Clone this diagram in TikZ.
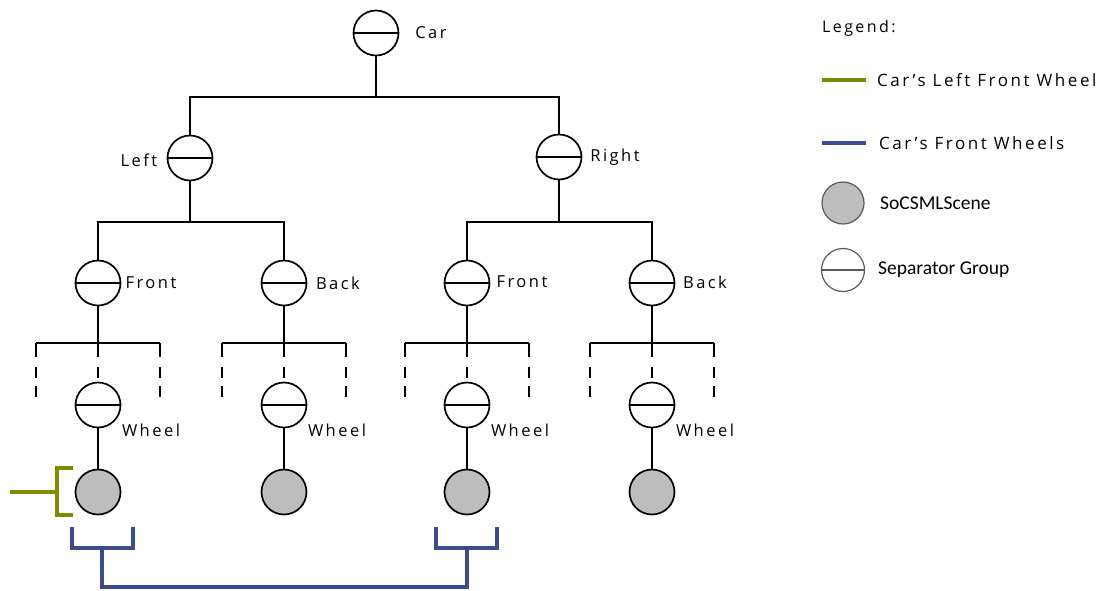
\documentclass[tikz,border=0pt]{standalone}
\usepackage{fontspec}
\newfontfamily\lblfont[LetterSpace=15]{Open Sans}
\newfontfamily\legfont{Carlito}
\definecolor{selgreen}{HTML}{7F8C00}
\definecolor{selblue}{HTML}{3D4A8E}
\definecolor{scenefill}{HTML}{BDBDBD}
\begin{document}
\begin{tikzpicture}[x=1pt,y=-1pt,
  sep/.style={circle,draw,line width=1.7pt,minimum size=45pt,inner sep=0pt,fill=white,
    path picture={\draw[line width=1.5pt] (path picture bounding box.west) -- (path picture bounding box.east);}},
  scene/.style={circle,draw,line width=1.7pt,minimum size=45pt,inner sep=0pt,fill=scenefill},
  lbl/.style={font=\lblfont\fontsize{16.5}{18}\selectfont,inner sep=0pt},
  leg/.style={font=\legfont\fontsize{19.5}{21}\selectfont,inner sep=0pt,anchor=west},
  tree/.style={line width=1.7pt},
  tick/.style={line width=1.7pt,dash pattern=on 14pt off 10pt on 11pt off 8pt on 11pt},
  green/.style={line width=3.2pt,selgreen},
  blue/.style={line width=3.2pt,selblue}]
\useasboundingbox (0,0) rectangle (1101,590);

% upper levels
\node[sep] (car) at (376,33) {};
\node[lbl] (carl) at (431,33) {Car};
\node[sep] (left) at (190,158) {};
\node[lbl] (leftl) at (139,160) {Left};
\node[sep] (right) at (559,157) {};
\node[lbl] (rightl) at (615,157) {Right};
\coordinate (b0) at (376,97);
\draw[tree] (car) -- (b0);
\draw[tree] (left) |- (b0) -| (right);

\node[sep] (lf) at (98,283) {};
\node[sep] (lb) at (284,283) {};
\node[sep] (rf) at (467,283) {};
\node[sep] (rb) at (652,283) {};
\node[lbl] at (151,283) {Front};
\node[lbl] at (338,283) {Back};
\node[lbl] at (522,282) {Front};
\node[lbl] at (705,282) {Back};
\coordinate (bl) at (190,222);
\coordinate (br) at (559,222);
\draw[tree] (left) -- (bl);
\draw[tree] (lf) |- (bl) -| (lb);
\draw[tree] (right) -- (br);
\draw[tree] (rf) |- (br) -| (rb);

% wheel level: separator, scene and the open child list above it
\foreach \p/\x/\lx in {lf/98/151, lb/284/337, rf/467/520, rb/652/705} {
  \node[sep] (w\p) at (\x,405) {};
  \node[lbl] (wl\p) at (\lx,430) {Wheel};
  \node[scene] (s\p) at (\x,492) {};
  \coordinate (k\p) at (\x,343);
  \coordinate (kl\p) at (\x-62,343);
  \coordinate (kr\p) at (\x+62,343);
  \coordinate (el\p) at (\x-62,397);
  \coordinate (er\p) at (\x+62,397);
  \draw[tree] (\p) -- (k\p);
  \draw[tree] (kl\p) -- (kr\p);
  \draw[tick] (k\p) -- (w\p);
  \draw[tick] (kl\p) -- (el\p);
  \draw[tick] (kr\p) -- (er\p);
  \draw[tree] (w\p) -- (s\p);
}

% selection: left front wheel
\coordinate (g0) at (10,492);
\coordinate (g1) at (57,492);
\draw[green] (73,468) -- (57,468) -- (57,515) -- (73,515);
\draw[green] (g0) -- (g1);

% selection: both front wheels
\coordinate (bl1) at (102,548);
\coordinate (br1) at (467,548);
\draw[blue] (72,527) -- (72,548) -- (133,548) -- (133,527);
\draw[blue] (436,527) -- (436,548) -- (497,548) -- (497,527);
\draw[blue] (bl1) -- (102,587) -| (br1);

% legend
\node[font=\lblfont\fontsize{16}{18}\selectfont,inner sep=0pt,anchor=west] (lgt) at (822,28) {Legend:};
\coordinate (lg0) at (822,80);
\coordinate (lg1) at (866,80);
\draw[green] (lg0) -- (lg1);
\node[font=\lblfont\fontsize{17}{19}\selectfont,inner sep=0pt,anchor=west] (lgg) at (877,80) {Car’s Left Front Wheel};
\coordinate (lb0) at (822,143);
\coordinate (lb1) at (866,143);
\draw[blue] (lb0) -- (lb1);
\node[font=\lblfont\fontsize{17}{19}\selectfont,inner sep=0pt,anchor=west] (lgb) at (879,143) {Car’s Front Wheels};
\node[circle,draw=black!65,line width=1.2pt,fill=scenefill,minimum size=42pt,inner sep=0pt] (lgs) at (843,203) {};
\node[leg] (lgsl) at (880,203) {SoCSMLScene};
\node[circle,draw=black!65,line width=1.2pt,minimum size=43pt,inner sep=0pt,
  path picture={\draw[black!65,line width=1.2pt] (path picture bounding box.west) -- (path picture bounding box.east);}] (lgp) at (843,270) {};
\node[leg] (lgpl) at (878,270) {Separator Group};
\end{tikzpicture}
\end{document}
